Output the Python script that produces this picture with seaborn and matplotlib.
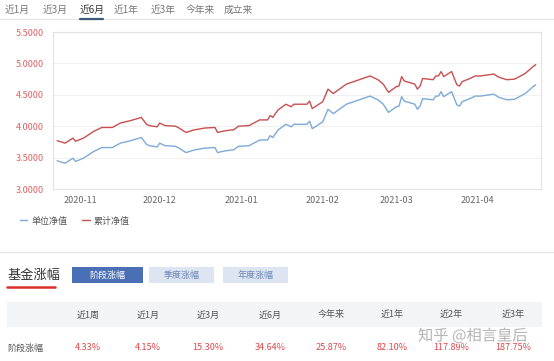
import pandas as pd
import numpy as np
import matplotlib.pyplot as plt
import matplotlib.dates as mdates
import matplotlib.patheffects as pe
from matplotlib.patches import Rectangle
import seaborn as sns

#### Data
dates = ['2020-10-23', '2020-10-26', '2020-10-29', '2020-10-30', '2020-11-02', '2020-11-06',
         '2020-11-09', '2020-11-13', '2020-11-16', '2020-11-20', '2020-11-24', '2020-11-26',
         '2020-11-27', '2020-11-30', '2020-12-01', '2020-12-03', '2020-12-07', '2020-12-08',
         '2020-12-11', '2020-12-14', '2020-12-18', '2020-12-22', '2020-12-23', '2020-12-25',
         '2020-12-28', '2020-12-29', '2020-12-31', '2021-01-04', '2021-01-08', '2021-01-11',
         '2021-01-12', '2021-01-13', '2021-01-15', '2021-01-18', '2021-01-20', '2021-01-21',
         '2021-01-26', '2021-01-27', '2021-01-28', '2021-02-01', '2021-02-03', '2021-02-05',
         '2021-02-10', '2021-02-19', '2021-02-22', '2021-02-24', '2021-02-26', '2021-03-01',
         '2021-03-02', '2021-03-03', '2021-03-04', '2021-03-08', '2021-03-09', '2021-03-10',
         '2021-03-11', '2021-03-15', '2021-03-16', '2021-03-17', '2021-03-18', '2021-03-19',
         '2021-03-22', '2021-03-24', '2021-03-25', '2021-03-26', '2021-03-29', '2021-03-31',
         '2021-04-02', '2021-04-07', '2021-04-09', '2021-04-12', '2021-04-15', '2021-04-19',
         '2021-04-22', '2021-04-23']
unit_nav = [3.45, 3.41, 3.49, 3.44, 3.49, 3.60, 3.66, 3.66, 3.73, 3.77, 3.82, 3.71, 3.69, 3.67,
            3.73, 3.69, 3.68, 3.66, 3.58, 3.62, 3.65, 3.66, 3.58, 3.60, 3.62, 3.62, 3.68, 3.69,
            3.78, 3.78, 3.85, 3.82, 3.94, 4.03, 3.99, 4.03, 4.03, 4.08, 3.96, 4.07, 4.27, 4.20,
            4.35, 4.48, 4.42, 4.35, 4.22, 4.31, 4.32, 4.47, 4.40, 4.35, 4.27, 4.32, 4.44, 4.42,
            4.48, 4.48, 4.55, 4.47, 4.55, 4.34, 4.32, 4.39, 4.44, 4.48, 4.48, 4.51, 4.46, 4.42,
            4.43, 4.52, 4.63, 4.66]
acc_nav = [3.77, 3.73, 3.81, 3.76, 3.81, 3.92, 3.98, 3.98, 4.05, 4.09, 4.14, 4.03, 4.01, 3.99,
           4.05, 4.01, 4.00, 3.98, 3.90, 3.94, 3.97, 3.98, 3.90, 3.92, 3.94, 3.94, 4.00, 4.01,
           4.10, 4.10, 4.17, 4.14, 4.26, 4.35, 4.31, 4.35, 4.35, 4.40, 4.28, 4.39, 4.59, 4.52,
           4.67, 4.80, 4.74, 4.67, 4.54, 4.63, 4.64, 4.79, 4.72, 4.67, 4.59, 4.64, 4.76, 4.74,
           4.80, 4.80, 4.87, 4.79, 4.87, 4.66, 4.64, 4.71, 4.76, 4.80, 4.80, 4.83, 4.78, 4.74,
           4.75, 4.84, 4.95, 4.98]
series_names = ['单位净值', '累计净值']
y_ticks = [3.0, 3.5, 4.0, 4.5, 5.0, 5.5]
month_ticks = ['2020-11-01', '2020-12-01', '2021-01-01', '2021-02-01', '2021-03-01', '2021-04-01']

range_tabs = ['近1月', '近3月', '近6月', '近1年', '近3年', '今年来', '成立来']
active_tab = '近6月'
gain_buttons = ['阶段涨幅', '季度涨幅', '年度涨幅']
period_labels = ['近1周', '近1月', '近3月', '近6月', '今年来', '近1年', '近2年', '近3年']
period_gains = ['4.33%', '4.15%', '15.30%', '34.64%', '25.87%', '82.10%', '117.89%', '187.75%']

#### Build long-form frame
df = pd.DataFrame({'date': pd.to_datetime(dates * 2),
                   'nav': unit_nav + acc_nav,
                   'kind': [series_names[0]] * len(dates) + [series_names[1]] * len(dates)})

sns.set_style('white')
plt.rcParams['font.family'] = ['Noto Sans CJK SC', 'DejaVu Sans']

W, H = 554, 361
fig = plt.figure(figsize=(W / 100, H / 100), dpi=100)

# page overlay in pixel coordinates
page = fig.add_axes([0, 0, 1, 1])
page.set_xlim(0, W)
page.set_ylim(H, 0)
page.axis('off')

# range tabs
tab_x = [17.5, 55, 92, 126, 163, 200, 238]
page.plot([0, W], [18.5, 18.5], color='#e6e6e6', lw=1)
for label, x in zip(range_tabs, tab_x):
    page.text(x, 10, label, ha='center', va='center', fontsize=7,
              color='#333333' if label == active_tab else '#777777')
page.plot([80, 103], [18.5, 18.5], color='#3d5a78', lw=1.6)

# main chart
ax = fig.add_axes([53 / W, 1 - 189 / H, 488 / W, 157 / H])
palette = {'单位净值': '#7eaad8', '累计净值': '#c94f50'}
sns.lineplot(data=df, x='date', y='nav', hue='kind', hue_order=series_names,
             palette=palette, linewidth=1, ax=ax)
ax.set_xlim(pd.Timestamp('2020-10-21 10:00'), pd.Timestamp('2021-04-25'))
ax.set_ylim(3.0, 5.5)
ax.set_yticks(y_ticks)
ax.set_yticklabels([f'{v:.4f}' for v in y_ticks])
ax.set_xticks(pd.to_datetime(month_ticks))
ax.xaxis.set_major_formatter(mdates.DateFormatter('%Y-%m'))
ax.set_xlabel('')
ax.set_ylabel('')
ax.grid(axis='y', color='#f0f0f0', lw=0.8)
ax.tick_params(axis='y', length=0, pad=6.5, labelsize=6.5, labelcolor='#e06060')
ax.tick_params(axis='x', length=0, pad=5, labelsize=6.5, labelcolor='#666666')
for s in ax.spines.values():
    s.set_color('#e3e3e3')
    s.set_linewidth(0.8)

handles, labels = ax.get_legend_handles_labels()
ax.get_legend().remove()
fig.legend(handles, labels, loc='center left', bbox_to_anchor=(12 / W, 1 - 221 / H),
           ncol=2, frameon=False, handlelength=0.8, handletextpad=0.5,
           columnspacing=1.6, fontsize=6.5, labelcolor='#555555')

# fund gain section
page.plot([0, W], [251.5, 251.5], color='#e6e6e6', lw=1)
page.text(7, 275, '基金涨幅', ha='left', va='center', fontsize=9.5, color='#333333')
page.plot([7, 55], [287, 287], color='#d9302c', lw=1.8)

btn_x = [(72, 143), (149, 214), (223, 288)]
for i, (label, (x0, x1)) in enumerate(zip(gain_buttons, btn_x)):
    face = '#4a6fb5' if i == 0 else '#dde5f2'
    page.add_patch(Rectangle((x0, 267), x1 - x0, 16, facecolor=face, edgecolor='none'))
    page.text((x0 + x1) / 2, 275, label, ha='center', va='center', fontsize=6.5,
              color='white' if i == 0 else '#6c86b8')

# table
page.add_patch(Rectangle((7, 302), 535, 25, facecolor='#f3f4f6', edgecolor='none'))
col_x = [88, 148, 208, 270, 331, 392, 451, 513]
for label, value, x in zip(period_labels, period_gains, col_x):
    page.text(x, 315, label, ha='center', va='center', fontsize=6.5, color='#555555')
    page.text(x, 348, value, ha='center', va='center', fontsize=6.5, color='#e0474a')
page.text(7, 348, gain_buttons[0], ha='left', va='center', fontsize=6.5, color='#555555')

# watermark
page.text(418, 336, '知乎 @相言皇后', ha='left', va='center', fontsize=11,
          color='#a8a8a8', alpha=0.8,
          path_effects=[pe.withStroke(linewidth=1.5, foreground='white')])

fig.savefig('out.png', dpi=100)
